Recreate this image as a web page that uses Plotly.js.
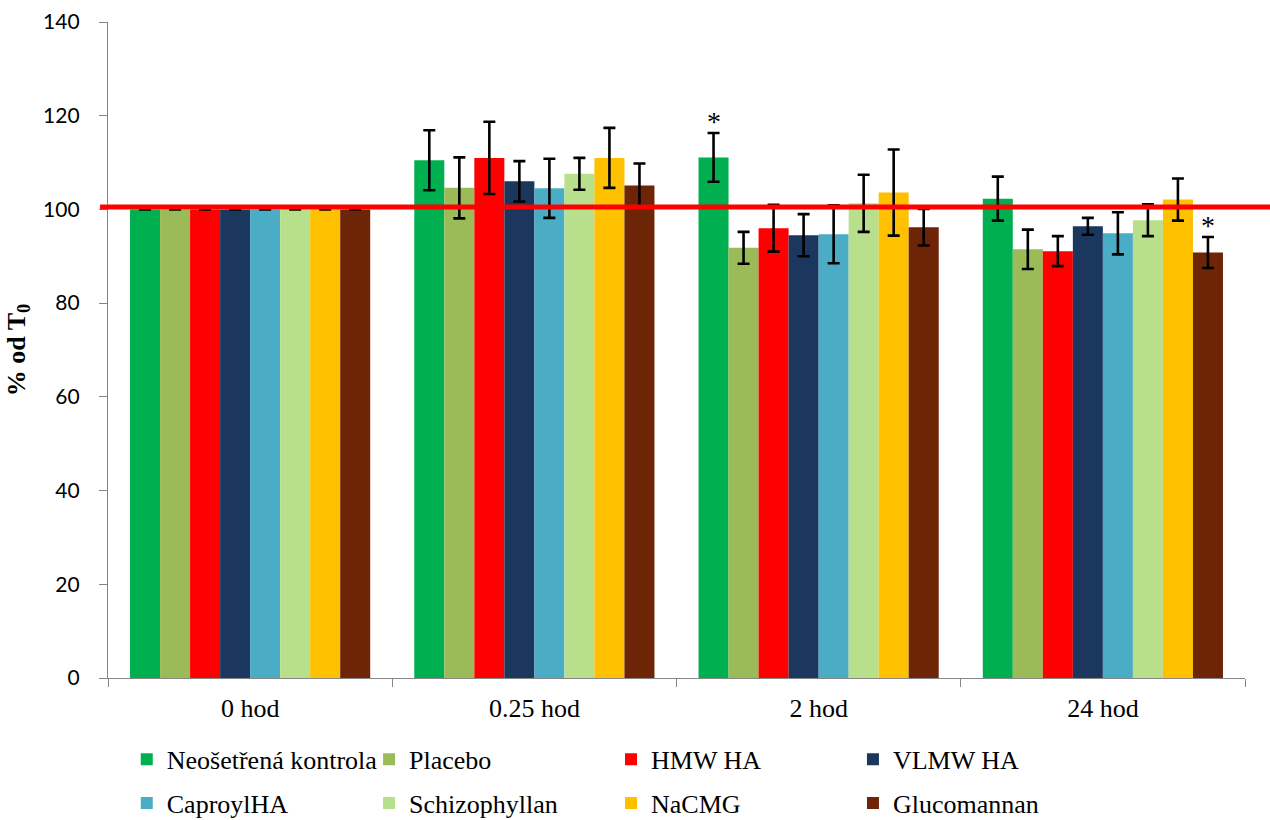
<!DOCTYPE html>
<html>
<head>
<meta charset="utf-8">
<script src="https://cdn.plot.ly/plotly-3.0.1.min.js"></script>
<style>html,body{margin:0;padding:0;background:#fff;}#chart{width:1270px;height:820px;}</style>
</head>
<body>
<div id="chart"></div>
<script>
// ---- data ----
const categories = ["0 hod", "0.25 hod", "2 hod", "24 hod"];
const seriesNames = ["Neošetřená kontrola", "Placebo", "HMW HA", "VLMW HA", "CaproylHA", "Schizophyllan", "NaCMG", "Glucomannan"];
const neoKontrola = [100, 110.5, 111.1, 102.3];
const neoKontrolaErr = [0, 6.4, 5.2, 4.7];
const placebo = [100, 104.6, 91.8, 91.5];
const placeboErr = [0, 6.5, 3.4, 4.2];
const hmwHA = [100, 111.0, 96.0, 91.1];
const hmwHAErr = [0, 7.7, 5.0, 3.2];
const vlmwHA = [100, 106.0, 94.5, 96.4];
const vlmwHAErr = [0, 4.3, 4.5, 1.8];
const caproylHA = [100, 104.5, 94.7, 94.9];
const caproylHAErr = [0, 6.3, 6.2, 4.5];
const schizophyllan = [100, 107.6, 101.3, 97.7];
const schizophyllanErr = [0, 3.4, 6.1, 3.4];
const naCMG = [100, 111.0, 103.6, 102.1];
const naCMGErr = [0, 6.4, 9.2, 4.5];
const glucomannan = [100, 105.1, 96.2, 90.8];
const glucomannanErr = [0, 4.7, 3.9, 3.3];
const yTickVals = [0, 20, 40, 60, 80, 100, 120, 140];
const referenceLine = 100.5;
// significance marks: [series index, category index]
const significance = [[0, 2], [7, 3]];

// ---- styles ----
const colors = ["#00B050", "#9BBB59", "#FF0000", "#1B375E", "#4BACC6", "#B8DF8B", "#FFC000", "#6E2407"];
const values = [neoKontrola, placebo, hmwHA, vlmwHA, caproylHA, schizophyllan, naCMG, glucomannan];
const errors = [neoKontrolaErr, placeboErr, hmwHAErr, vlmwHAErr, caproylHAErr, schizophyllanErr, naCMGErr, glucomannanErr];
const legendIds = ["legend", "legend2", "legend3", "legend4"];
const bargap = 0.155;

const traces = seriesNames.map((name, i) => ({
  type: "bar",
  name: name,
  x: categories,
  y: values[i],
  marker: {color: colors[i]},
  error_y: {type: "data", array: errors[i], visible: true, color: "#000", thickness: 2.6, width: 6},
  legend: legendIds[i % 4],
  legendgroup: "g" + i,
  hoverinfo: "x+y+name"
}));

const serif = "'Liberation Serif', 'Times New Roman', serif";
const legendX = [0.0165, 0.2296, 0.4424, 0.6552];
const legendBase = {
  orientation: "v", yanchor: "top", xanchor: "left", y: -0.088,
  font: {family: serif, size: 26, color: "#000"},
  bgcolor: "rgba(0,0,0,0)", traceorder: "grouped", tracegroupgap: 7
};

const nBars = seriesNames.length;
const barW = (1 - bargap) / nBars;
const annotations = significance.map(([s, c]) => ({
  x: c + (s - (nBars - 1) / 2) * barW,
  y: values[s][c] + errors[s][c],
  xref: "x", yref: "y",
  text: "*", showarrow: false, yanchor: "bottom", yshift: -6,
  font: {family: serif, size: 28, color: "#000"}
}));

const layout = {
  width: 1270, height: 820,
  margin: {l: 108, r: 25, t: 22, b: 142, autoexpand: false},
  paper_bgcolor: "#fff", plot_bgcolor: "#fff",
  barmode: "group", bargap: bargap, bargroupgap: 0,
  showlegend: true,
  xaxis: {
    type: "category", showline: true, linecolor: "#868686", linewidth: 1.3,
    ticks: "outside", tickson: "boundaries", ticklen: 8, tickcolor: "#868686",
    tickfont: {family: serif, size: 26, color: "#000"},
    ticklabelstandoff: 7, showgrid: false, zeroline: false, fixedrange: true, automargin: false
  },
  yaxis: {
    range: [0, 140], tickvals: yTickVals, showline: true, linecolor: "#868686", linewidth: 1.3,
    ticks: "outside", ticklen: 8, tickcolor: "#868686",
    tickfont: {family: "Lato, 'Open Sans', sans-serif", size: 21, color: "#000"},
    ticklabelstandoff: 15, showgrid: false, zeroline: false, automargin: false,
    title: {text: "% od T<sub>0</sub>", standoff: 10, font: {family: serif, size: 26, color: "#000", weight: "bold"}}
  },
  shapes: [{
    type: "line", xref: "paper", yref: "y", x0: -0.007, x1: 1.03, y0: referenceLine, y1: referenceLine,
    line: {color: "#FF0000", width: 5}, layer: "above"
  }],
  annotations: annotations
};
legendIds.forEach((id, k) => { layout[id] = Object.assign({}, legendBase, {x: legendX[k]}); });

Plotly.newPlot("chart", traces, layout, {displayModeBar: false, staticPlot: false});
</script>
</body>
</html>
